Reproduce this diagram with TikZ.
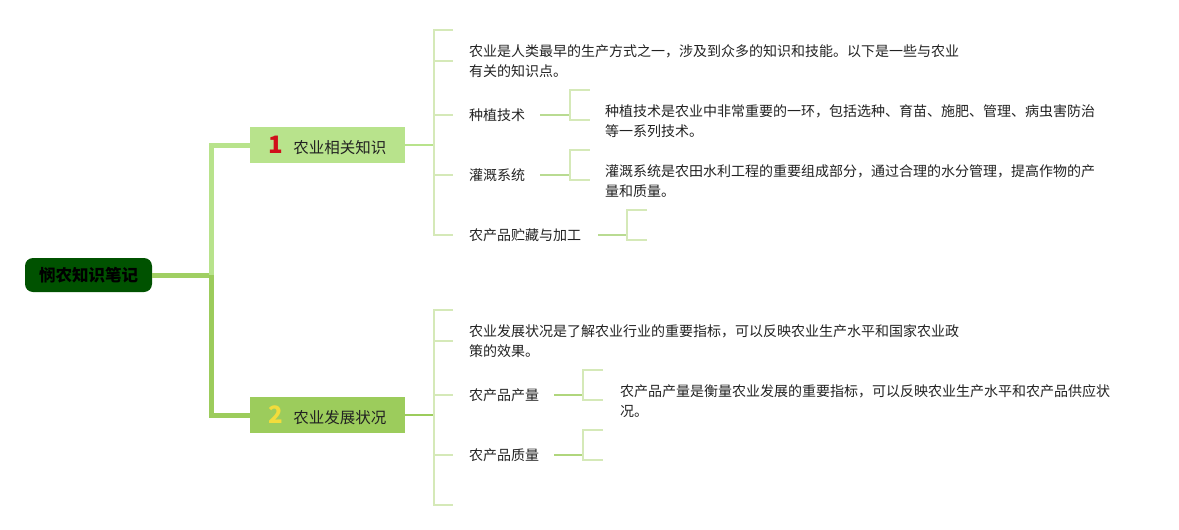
\documentclass[tikz,border=0pt]{standalone}
\usepackage{fontspec}
\setmainfont{Noto Sans CJK SC}
\definecolor{rootgreen}{HTML}{005200}
\definecolor{upgreen}{HTML}{B8E38C}
\definecolor{downgreen}{HTML}{9CCC5C}
\definecolor{bracketgreen}{HTML}{D5E9B8}
\definecolor{stemgreen}{HTML}{B9DB92}
\definecolor{numred}{HTML}{D0101A}
\definecolor{numyellow}{HTML}{F2DC3C}
\definecolor{txtgray}{HTML}{222222}
\begin{document}
\begin{tikzpicture}[x=1pt,y=-1pt,
	rootbox/.style={rectangle, rounded corners=8pt, fill=rootgreen, minimum width=127pt, minimum height=34pt, inner sep=0pt, font=\fontsize{16.5}{18}\selectfont\bfseries, text=black},
	branchbox/.style={rectangle, minimum width=155pt, minimum height=36pt, inner sep=0pt, font=\fontsize{15.5}{18}\selectfont, text=txtgray},
	leaf/.style={anchor=west, inner sep=0pt, align=left, font=\fontsize{14}{20}\selectfont, text=txtgray},
	rootline/.style={line width=5pt, draw=#1},
	brline/.style={line width=1.5pt, draw=bracketgreen},
	stem/.style={line width=2pt, draw=stemgreen, shorten <=15pt}]
	\useasboundingbox (0,0) rectangle (1179,530);
	% root and main branches
	\node (root) at (88.5,275)	[rootbox]	{悯农知识笔记};
	\node (B1) at (327.5,145)	[branchbox, fill=upgreen]	{\textcolor{numred}{\fontsize{24}{24}\selectfont\bfseries 1}\hspace{10pt}农业相关知识};
	\node (B2) at (327.5,415)	[branchbox, fill=downgreen]	{\textcolor{numyellow}{\fontsize{24}{24}\selectfont\bfseries 2}\hspace{10pt}农业发展状况};
	\coordinate (J) at (211,275);
	\draw[rootline=downgreen!85!upgreen] (root.east) -- (J);
	\draw[rootline=upgreen] (J) |- (B1.west);
	\draw[rootline=downgreen] (J) |- (B2.west);
	% first branch
	\node (T1) at (469,61)	[leaf]	{农业是人类最早的生产方式之一，涉及到众多的知识和技能。以下是一些与农业\\有关的知识点。};
	\node (L11) at (469,115)	[leaf]	{种植技术};
	\node (L12) at (469,175)	[leaf]	{灌溉系统};
	\node (L13) at (469,235)	[leaf]	{农产品贮藏与加工};
	\node (D11) at (605,121)	[leaf]	{种植技术是农业中非常重要的一环，包括选种、育苗、施肥、管理、病虫害防治\\等一系列技术。};
	\node (D12) at (605,181)	[leaf]	{灌溉系统是农田水利工程的重要组成部分，通过合理的水分管理，提高作物的产\\量和质量。};
	\coordinate (K1) at (434,145);
	\coordinate (K1t) at (434,30);
	\coordinate (K1b) at (434,235);
	\draw[brline, draw=upgreen] (B1.east) -- (K1);
	\draw[brline] ([xshift=19pt]K1t) -- (K1t) -- (K1b) -- ([xshift=19pt]K1b);
	\foreach \n in {T1,L11,L12}
		\draw[brline] (K1 |- \n) -- ++(19,0);
	\coordinate (S11) at (570,115);
	\coordinate (S12) at (570,175);
	\coordinate (S13) at (627,235);
	\draw[stem] (L11.east) -- (S11);
	\draw[stem] (L12.east) -- (S12);
	\draw[stem, shorten <=17pt] (L13.east) -- (S13);
	\foreach \s in {S11,S12,S13}
		\draw[brline] ([shift={(20,-25)}]\s) -- ([shift={(0,-25)}]\s) -- ([shift={(0,5)}]\s) -- ([shift={(20,5)}]\s);
	% second branch
	\node (T2) at (469,341)	[leaf]	{农业发展状况是了解农业行业的重要指标，可以反映农业生产水平和国家农业政\\策的效果。};
	\node (L21) at (469,395)	[leaf]	{农产品产量};
	\node (L22) at (469,455)	[leaf]	{农产品质量};
	\node (D21) at (620,401)	[leaf]	{农产品产量是衡量农业发展的重要指标，可以反映农业生产水平和农产品供应状\\况。};
	\coordinate (K2) at (434,415);
	\coordinate (K2t) at (434,310);
	\coordinate (K2b) at (434,505);
	\draw[brline, draw=downgreen] (B2.east) -- (K2);
	\draw[brline] ([xshift=19pt]K2t) -- (K2t) -- (K2b) -- ([xshift=19pt]K2b);
	\foreach \n in {T2,L21,L22}
		\draw[brline] (K2 |- \n) -- ++(19,0);
	\coordinate (S21) at (583,395);
	\coordinate (S22) at (583,455);
	\draw[stem, draw=downgreen!80] (L21.east) -- (S21);
	\draw[stem, draw=downgreen!80] (L22.east) -- (S22);
	\foreach \s in {S21,S22}
		\draw[brline] ([shift={(20,-25)}]\s) -- ([shift={(0,-25)}]\s) -- ([shift={(0,5)}]\s) -- ([shift={(20,5)}]\s);
\end{tikzpicture}
\end{document}
